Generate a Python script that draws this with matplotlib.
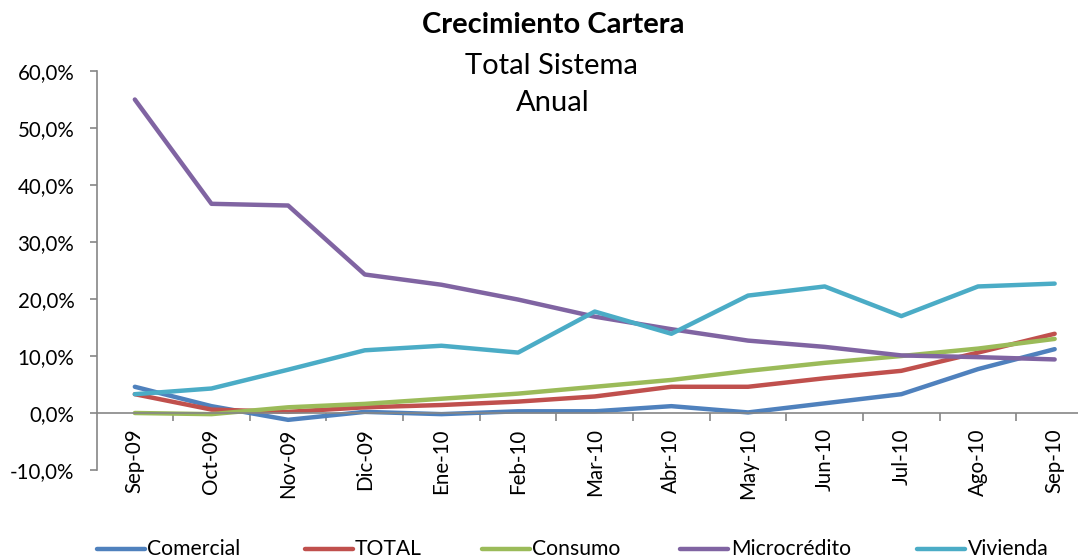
import matplotlib.pyplot as plt
from matplotlib.lines import Line2D
from matplotlib.ticker import FuncFormatter, FixedLocator

OUTPUT_PLOT = "out.png"

# Growth of the loan book, yearly, in percent
months = ["Sep-09", "Oct-09", "Nov-09", "Dic-09", "Ene-10", "Feb-10", "Mar-10",
          "Abr-10", "May-10", "Jun-10", "Jul-10", "Ago-10", "Sep-10"]
comercial = [4.6, 1.2, -1.2, 0.2, -0.2, 0.3, 0.3, 1.2, 0.1, 1.7, 3.3, 7.7, 11.2]
total = [3.3, 0.6, 0.2, 1.0, 1.4, 2.0, 2.9, 4.6, 4.6, 6.1, 7.4, 10.6, 13.9]
consumo = [0.0, -0.2, 1.0, 1.6, 2.5, 3.4, 4.6, 5.8, 7.4, 8.8, 10.0, 11.3, 13.0]
microcredito = [55.0, 36.7, 36.4, 24.3, 22.5, 19.9, 16.9, 14.7, 12.7, 11.6, 10.1, 9.8, 9.4]
vivienda = [3.3, 4.3, 7.6, 11.0, 11.8, 10.6, 17.8, 13.9, 20.6, 22.2, 17.0, 22.2, 22.7]

series = [
    ("Comercial", comercial, "#4F81BD"),
    ("TOTAL", total, "#C0504D"),
    ("Consumo", consumo, "#9BBB59"),
    ("Microcrédito", microcredito, "#8064A2"),
    ("Vivienda", vivienda, "#4BACC6"),
]

plt.rcParams["font.family"] = ["Lato", "DejaVu Sans"]
AXIS_GRAY = "#868686"

W, H = 1078, 558
fig = plt.figure(figsize=(W / 100, H / 100), dpi=100)
# axes run past the right border, as in the original (clipped chart)
left, right, top, bottom = 96.5, 1093, 71, 470
ax = fig.add_axes([left / W, 1 - bottom / H, (right - left) / W, (bottom - top) / H])

x = list(range(len(months)))
for name, vals, color in series:
    ax.plot(x, vals, color=color, linewidth=3.2, solid_capstyle="round",
            solid_joinstyle="round", label=name, clip_on=False)

ax.set_xlim(-0.5, len(months) - 0.5)
ax.set_ylim(-10, 60)
ax.set_yticks(range(-10, 61, 10))
# plain hyphen for negatives, comma as decimal mark
ax.yaxis.set_major_formatter(FuncFormatter(lambda v, p: f"{v:.1f}%".replace(".", ",")))

for s in ["top", "right"]:
    ax.spines[s].set_visible(False)
ax.spines["left"].set_color(AXIS_GRAY)
ax.spines["left"].set_linewidth(1.2)
ax.spines["bottom"].set_position(("data", 0))
ax.spines["bottom"].set_color(AXIS_GRAY)
ax.spines["bottom"].set_linewidth(1.2)

ax.tick_params(axis="y", direction="out", length=5, width=1.2, color=AXIS_GRAY,
               pad=11, labelsize=14.8, labelcolor="black")
ax.set_xticks(x)
ax.set_xticklabels(months, rotation=90, va="top", ha="center")
ax.xaxis.set_minor_locator(FixedLocator([i + 0.5 for i in range(len(months))]))
ax.tick_params(axis="x", which="major", length=0, pad=11, labelsize=14.8)
ax.tick_params(axis="x", which="minor", direction="out", length=6, width=1.2, color=AXIS_GRAY)

# titles
fig.text(553 / W, 1 - 25 / H, "Crecimiento Cartera", ha="center", va="center",
         fontsize=21, fontweight="bold")
fig.text(551 / W, 1 - 66 / H, "Total Sistema", ha="center", va="center", fontsize=21)
fig.text(553 / W, 1 - 103 / H, "Anual", ha="center", va="center", fontsize=21)

# legend drawn by hand to keep the original spacing
legend_pos = [(97, 147), (305, 355), (482, 532), (680, 731), (917, 968)]
ly = 1 - 549 / H
for (x0, tx), (name, vals, color) in zip(legend_pos, series):
    fig.add_artist(Line2D([x0 / W, (x0 + 48) / W], [ly, ly], color=color,
                          linewidth=3.2, solid_capstyle="round"))
    fig.text(tx / W, ly, name, ha="left", va="center", fontsize=15.2,
             family=["Liberation Sans Narrow", "Lato", "DejaVu Sans"])

plt.savefig(OUTPUT_PLOT, dpi=100)
